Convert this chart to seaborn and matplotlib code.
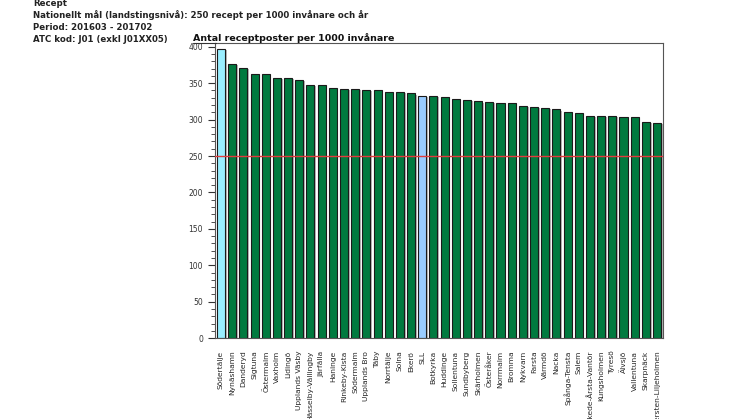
import pandas as pd
import matplotlib.pyplot as plt
import seaborn as sns
import matplotlib.ticker as ticker
import matplotlib.patheffects as pe
from matplotlib.lines import Line2D

areas = ["Södertälje", "Nynäshamn", "Danderyd", "Sigtuna", "Östermalm", "Vaxholm",
         "Lidingö", "Upplands Väsby", "Hässelby-Vällingby", "Järfälla", "Haninge",
         "Rinkeby-Kista", "Södermalm", "Upplands Bro", "Täby", "Norrtälje", "Solna",
         "Ekerö", "SLL", "Botkyrka", "Huddinge", "Sollentuna", "Sundbyberg",
         "Skärholmen", "Österåker", "Norrmalm", "Bromma", "Nykvarn", "Farsta",
         "Värmdö", "Nacka", "Spånga-Tensta", "Salem", "Enskede-Årsta-Vantör",
         "Kungsholmen", "Tyresö", "Älvsjö", "Vallentuna", "Skarpnäck",
         "Hägersten-Liljeholmen"]
values = [397, 376, 371, 363, 362, 357, 357, 354, 348, 347, 343, 342, 342, 341,
          340, 338, 338, 336, 333, 332, 331, 329, 327, 325, 324, 323, 323, 319,
          318, 316, 314, 310, 309, 305, 305, 305, 304, 303, 297, 296]
target = 250

colors = []
for a in areas:
    if a == "Södertälje":
        colors.append("#99EEFF")
    elif a == "SLL":
        colors.append("#99CCFF")
    else:
        colors.append("#007A3F")

df = pd.DataFrame({"area": areas, "value": values})

sns.set_style("ticks")
plt.rcParams['font.family'] = ['DejaVu Sans']

fig = plt.figure(figsize=(7.46, 4.19), dpi=100)
ax = fig.add_axes([0.288, 0.193, 0.601, 0.704])

sns.barplot(data=df, x="area", y="value", hue="area", palette=colors, legend=False,
            width=0.72, edgecolor="#1a1a1a", linewidth=0.8, saturation=1, ax=ax)

# grey drop shadow on the bars
for p in ax.patches:
    p.set_path_effects([pe.SimplePatchShadow(offset=(1.2, -0.8), shadow_rgbFace='#888888', alpha=0.6),
                        pe.Normal()])

ax.axhline(target, color="#E03C3C", lw=1, zorder=5)

ax.set_xlim(-0.55, len(areas) - 0.45)
ax.set_ylim(0, 405)
ax.yaxis.set_major_locator(ticker.MultipleLocator(50))
ax.yaxis.set_minor_locator(ticker.MultipleLocator(10))
ax.tick_params(axis='y', which='major', length=5, labelsize=5.5, colors='#333333')
ax.tick_params(axis='y', which='minor', length=3, color='#333333')
ax.tick_params(axis='x', length=0, labelsize=5.4, rotation=90, pad=9)
for lab in ax.get_xticklabels():
    lab.set_ha('center')
ax.set_xlabel("")
ax.set_ylabel("")
for s in ax.spines.values():
    s.set_color('#555555')
    s.set_linewidth(0.8)

ax.set_title("Antal receptposter per 1000 invånare", loc='left', x=-0.049, y=1.0,
             fontsize=6.8, fontweight='bold', pad=1.5, color='#111111')
fig.add_artist(Line2D([193 / 746, 216 / 746], [1 - 43.5 / 419, 1 - 43.5 / 419],
                      color='#333333', lw=0.8))

head = ["Recept",
        "Nationellt mål (landstingsnivå): 250 recept per 1000 invånare och år",
        "Period: 201603 - 201702",
        "ATC kod: J01 (exkl J01XX05)"]
for i, t in enumerate(head):
    fig.text(33 / 746, 1 - (3 + i * 12) / 419, t, fontsize=6.2, fontweight='bold',
             color='#222222', va='center', ha='left')

plt.savefig("out.png", dpi=100)
